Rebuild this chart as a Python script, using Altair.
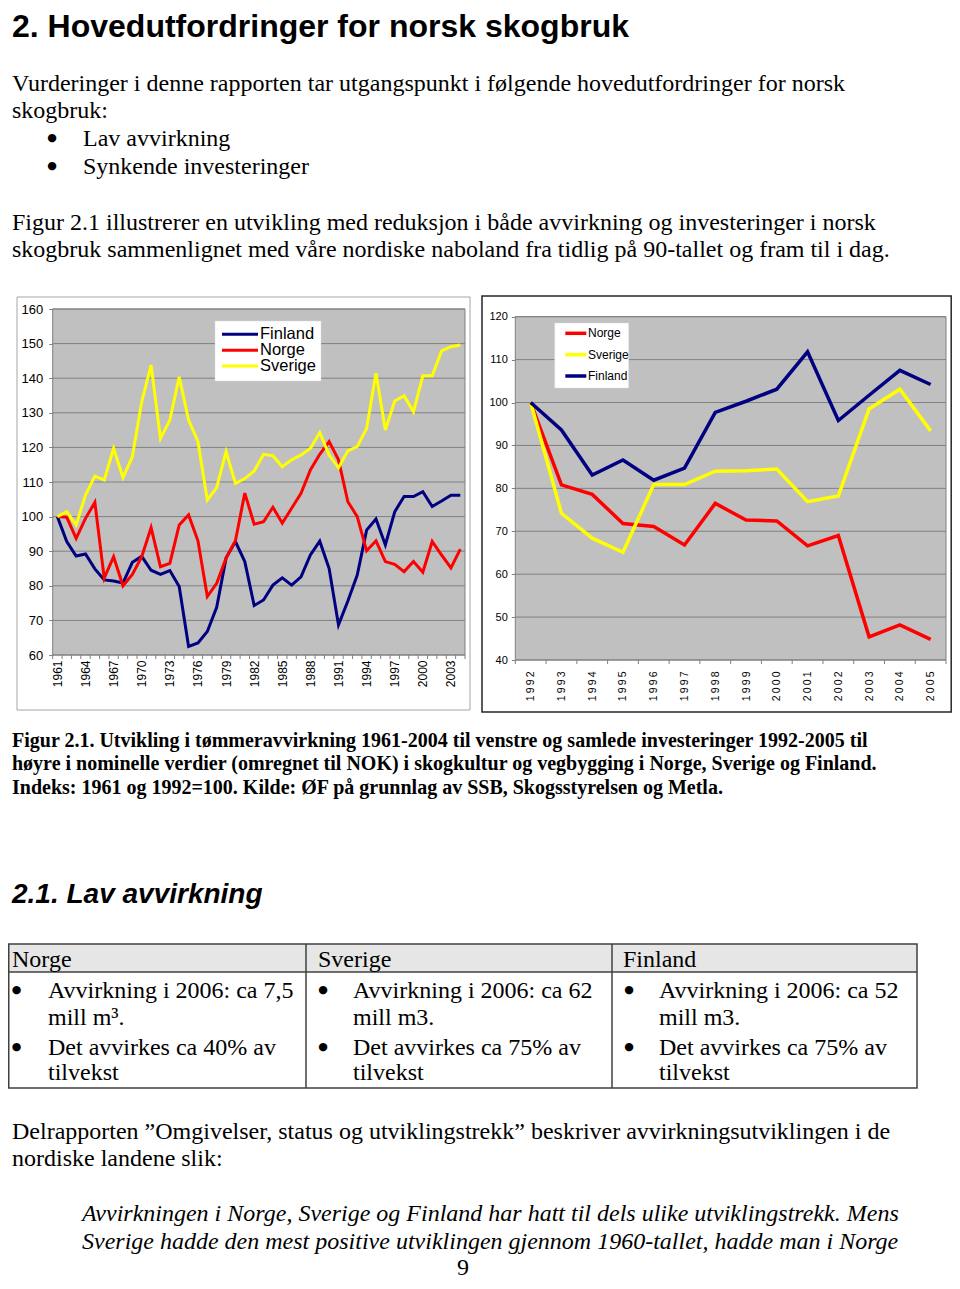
import altair as alt
import pandas as pd

# ---------------- chart data ----------------
YEARS_A = list(range(1961, 2005))
FINLAND_A = [100, 92.8, 88.6, 89.2, 84.9, 81.7, 81.4, 80.8, 86.8, 88.5,
             84.5, 83.3, 84.4, 79.8, 62.5, 63.5, 66.8, 73.8, 88.0, 92.8,
             87.0, 74.3, 75.9, 80.2, 82.3, 80.2, 82.6, 88.9, 92.9, 85.0,
             68.7, 75.6, 83.1, 96.1, 99.3, 91.8, 101.4, 105.8, 105.8, 107.2,
             102.9, 104.5, 106.2, 106.2]
NORGE_A = [100, 99.8, 93.7, 99.5, 104.1, 82.2, 88.4, 80.0, 83.3, 88.4,
           96.8, 85.5, 86.5, 97.6, 100.5, 93.0, 76.9, 80.7, 88.0, 93.0,
           106.8, 97.8, 98.5, 102.7, 98.1, 102.4, 106.7, 113.5, 118.0, 121.7,
           116.4, 104.3, 100.0, 90.1, 93.0, 87.0, 86.2, 84.1, 87.0, 83.9,
           92.8, 88.9, 85.2, 90.6]
SVERIGE_A = [100, 101.4, 97.6, 106.2, 111.7, 110.6, 119.7, 111.3, 117.3, 133.2,
             143.8, 122.6, 127.9, 140.4, 127.9, 121.7, 104.8, 108.4, 118.8, 109.6,
             111.0, 113.2, 118.0, 117.6, 114.4, 116.4, 117.8, 119.7, 124.3, 117.8,
             114.1, 119.0, 120.2, 125.5, 141.4, 125.0, 133.4, 134.9, 130.3, 140.7,
             140.7, 147.9, 149.1, 149.6]
LABEL_YEARS_A = list(range(1961, 2005, 3))
TICKS_A = list(range(60, 161, 10))
SERIES_A = ["Finland", "Norge", "Sverige"]

YEARS_B = list(range(1992, 2006))
NORGE_B = [100, 80.8, 78.6, 71.8, 71.1, 66.8, 76.5, 72.6, 72.4, 66.6, 69.0, 45.4, 48.2, 44.8]
SVERIGE_B = [100, 74.2, 68.4, 65.1, 80.9, 80.9, 84.0, 84.1, 84.5, 76.9, 78.2, 98.5, 103.1, 93.4]
FINLAND_B = [100, 93.6, 83.1, 86.6, 81.9, 84.7, 97.7, 100.3, 103.1, 111.8, 95.8, 101.7, 107.5, 104.2]
TICKS_B = list(range(40, 121, 10))
SERIES_B = ["Norge", "Sverige", "Finland"]

COLOR_OF = {"Finland": "#000080", "Norge": "#ff0000", "Sverige": "#ffff00"}

# ---------------- page text ----------------
HEADING = "2. Hovedutfordringer for norsk skogbruk"
INTRO = ["Vurderinger i denne rapporten tar utgangspunkt i følgende hovedutfordringer for norsk",
         "skogbruk:"]
BULLETS = ["Lav avvirkning", "Synkende investeringer"]
FIG_INTRO = ["Figur 2.1 illustrerer en utvikling med reduksjon i både avvirkning og investeringer i norsk",
             "skogbruk sammenlignet med våre nordiske naboland fra tidlig på 90-tallet og fram til i dag."]
CAPTION = ["Figur 2.1. Utvikling i tømmeravvirkning 1961-2004 til venstre og samlede investeringer 1992-2005 til",
           "høyre i nominelle verdier (omregnet til NOK) i skogkultur og vegbygging i Norge, Sverige og Finland.",
           "Indeks: 1961 og 1992=100.  Kilde: ØF på grunnlag av SSB, Skogsstyrelsen og Metla."]
SUBHEAD = "2.1. Lav avvirkning"
TABLE_HEAD = ["Norge", "Sverige", "Finland"]
TABLE_BODY = [
    [["Avvirkning i 2006: ca 7,5", "mill m³."], ["Det avvirkes ca 40% av", "tilvekst"]],
    [["Avvirkning i 2006: ca 62", "mill m3."], ["Det avvirkes ca 75% av", "tilvekst"]],
    [["Avvirkning i 2006: ca 52", "mill m3."], ["Det avvirkes ca 75% av", "tilvekst"]],
]
OUTRO = ["Delrapporten \u201dOmgivelser, status og utviklingstrekk\u201d beskriver avvirkningsutviklingen i de",
         "nordiske landene slik:"]
QUOTE = ["Avvirkningen i Norge, Sverige og Finland har hatt til dels ulike utviklingstrekk. Mens",
         "Sverige hadde den mest positive utviklingen gjennom 1960-tallet, hadde man i Norge"]
PAGE_NO = "9"
BULLET = "\u25cf"

# ---------------- layout helpers ----------------
W, H = 944, 1273
OFF = 8


def P(v):
    return v - OFF


SERIF = "Liberation Serif"
SANS = "Liberation Sans"
NARROW = "Liberation Sans Narrow, Arial Narrow, Liberation Sans"
ONE = pd.DataFrame({"k": [0]})


def txt(s, x, y, size, font=SERIF, weight="normal", style="normal", align="left",
        baseline="alphabetic", color="black"):
    return alt.Chart(pd.DataFrame({"t": [s]})).mark_text(
        align=align, baseline=baseline, font=font, fontSize=size,
        fontWeight=weight, fontStyle=style, color=color
    ).encode(x=alt.value(P(x)), y=alt.value(P(y)), text="t:N")


def bullet(x, line_baseline):
    return txt(BULLET, x, line_baseline - 4.6, 11, font="DejaVu Sans", align="center")


def box(x1, y1, x2, y2, fill=None, stroke=None, sw=1.0):
    kw = {}
    if fill is None:
        kw["fillOpacity"] = 0
    else:
        kw["fill"] = fill
    if stroke is not None:
        kw["stroke"] = stroke
        kw["strokeWidth"] = sw
    return alt.Chart(ONE).mark_rect(**kw).encode(
        x=alt.value(P(x1)), x2=alt.value(P(x2)), y=alt.value(P(y1)), y2=alt.value(P(y2)))


def hline(x1, x2, y, color="#404040", sw=1.0):
    return alt.Chart(ONE).mark_rule(color=color, strokeWidth=sw).encode(
        x=alt.value(P(x1)), x2=alt.value(P(x2)), y=alt.value(P(y)))


def vline(x, y1, y2, color="#404040", sw=1.0):
    return alt.Chart(ONE).mark_rule(color=color, strokeWidth=sw).encode(
        x=alt.value(P(x)), y=alt.value(P(y1)), y2=alt.value(P(y2)))


def line_chart(years, series, names, label_years, ticks, box_px, ydom, lw,
               ylab_font, ylab_size, ylab_pad, xlab_font, xlab_size, xlab_pad, xlab_expr=None):
    x1, y1, x2, y2 = box_px
    df = pd.DataFrame({
        "year": years * len(names),
        "value": [v for s in series for v in s],
        "land": [n for n in names for _ in years],
    })
    xaxis_kw = dict(orient="bottom", offset=-(H - P(y2)), values=label_years, format="d",
                    labelAngle=270, labelAlign="right", labelBaseline="middle",
                    labelPadding=xlab_pad, ticks=False, domain=False, grid=False, title=None,
                    labelFont=xlab_font, labelFontSize=xlab_size, labelColor="black",
                    labelOverlap=False, labelFlush=False, zindex=1)
    if xlab_expr:
        xaxis_kw["labelExpr"] = xlab_expr
    xenc = alt.X("year:Q",
                 scale=alt.Scale(domain=[years[0] - 0.5, years[-1] + 0.5],
                                 range=[P(x1), P(x2)], nice=False, zero=False),
                 axis=alt.Axis(**xaxis_kw))
    yenc = alt.Y("value:Q",
                 scale=alt.Scale(domain=ydom, range=[P(y2), P(y1)], nice=False, zero=False),
                 axis=alt.Axis(orient="left", offset=-P(x1), values=ticks, tickSize=4,
                               tickColor="#808080", domain=False, labelPadding=ylab_pad,
                               labelFont=ylab_font, labelFontSize=ylab_size, labelColor="black",
                               grid=False, title=None, labelFlush=False, labelOverlap=False,
                               zindex=1))
    bg = box(x1, y1, x2, y2, fill="#c0c0c0", stroke="#808080", sw=1)
    grid = alt.Chart(pd.DataFrame({"value": ticks})).mark_rule(
        color="#808080", strokeWidth=1).encode(y=yenc, x=alt.value(P(x1)), x2=alt.value(P(x2)))
    bounds = [y - 0.5 for y in years] + [years[-1] + 0.5]
    tk = alt.Chart(pd.DataFrame({"year": bounds})).mark_rule(
        color="#808080", strokeWidth=1).encode(x=xenc, y=alt.value(P(y2)), y2=alt.value(P(y2) + 4))
    lines = alt.Chart(df).mark_line(strokeWidth=lw, strokeJoin="miter").encode(
        x=xenc, y=yenc,
        color=alt.Color("land:N", scale=alt.Scale(domain=names, range=[COLOR_OF[n] for n in names]),
                        legend=None))
    return alt.layer(bg, grid, tk, lines)


def legend(names, bx, line_x1, line_x2, text_x, y_first, y_last, size, font, lw):
    bx1, by1, bx2, by2 = bx
    src = pd.DataFrame({"land": names})
    yenc = alt.Y("land:N", scale=alt.Scale(type="point", domain=names, range=[P(y_first), P(y_last)],
                                           padding=0), axis=None)
    cenc = alt.Color("land:N", scale=alt.Scale(domain=names, range=[COLOR_OF[n] for n in names]),
                     legend=None)
    back = box(bx1, by1, bx2, by2, fill="white", stroke="#d9d9d9", sw=0.5)
    sym = alt.Chart(src).mark_rule(strokeWidth=lw).encode(
        y=yenc, x=alt.value(P(line_x1)), x2=alt.value(P(line_x2)), color=cenc)
    lab = alt.Chart(src).mark_text(align="left", baseline="middle", font=font, fontSize=size,
                                   color="black").encode(
        y=yenc, x=alt.value(P(text_x)), text="land:N")
    return alt.layer(back, sym, lab)


layers = []

# ---- text above charts ----
layers.append(txt(HEADING, 12, 37, 32, font=SANS, weight="bold"))
layers.append(txt(INTRO[0], 12, 90.5, 24))
layers.append(txt(INTRO[1], 12, 118, 24))
for i, b in enumerate(BULLETS):
    yy = 146 + 28 * i
    layers.append(bullet(52, yy))
    layers.append(txt(b, 83, yy, 24))
layers.append(txt(FIG_INTRO[0], 12, 230, 24))
layers.append(txt(FIG_INTRO[1], 12, 257, 24))

# ---- chart frames ----
layers.append(box(17, 297, 470, 710, fill="white", stroke="#a6a6a6", sw=1))
layers.append(box(482, 296, 951.2, 712, fill="white", stroke="#262626", sw=1.5))

# ---- left chart: tømmeravvirkning 1961-2004 ----
layers.append(line_chart(YEARS_A, [FINLAND_A, NORGE_A, SVERIGE_A], SERIES_A, LABEL_YEARS_A,
                         TICKS_A, (52.7, 309, 465, 655), [60, 160], 3,
                         SANS, 13, 6, SANS, 12, 5))
layers.append(legend(SERIES_A, (215, 321, 321, 381), 222, 258, 260, 334.3, 366, 16.5, SANS, 3))

# ---- right chart: investeringer 1992-2005 ----
layers.append(line_chart(YEARS_B, [NORGE_B, SVERIGE_B, FINLAND_B], SERIES_B, YEARS_B,
                         TICKS_B, (515.3, 316.7, 946, 660), [40, 120], 3.5,
                         NARROW, 11, 4, NARROW, 10.5, 11,
                         xlab_expr="join(split(datum.label, ''), '\u2009')"))
layers.append(legend(SERIES_B, (554.7, 323, 628.7, 388), 565.3, 586.3, 588, 333.3, 376, 12, NARROW, 3.5))

# ---- caption ----
for i, c in enumerate(CAPTION):
    layers.append(txt(c, 12, 746.5 + 23.5 * i, 20, weight="bold"))

layers.append(txt(SUBHEAD, 12, 902.5, 28, font=SANS, weight="bold", style="italic"))

# ---- table ----
TL, TR = 8.75, 917
layers.append(box(TL, 944, TR, 972, fill="#e6e6e6"))
layers.append(box(TL, 944, TR, 1088, stroke="#404040", sw=1.5))
layers.append(hline(TL, TR, 972, sw=1.5))
layers.append(vline(306, 944, 1088, sw=1.5))
layers.append(vline(612, 944, 1088, sw=1.5))
col_head_x = [12, 318, 623]
col_bullet_x = [16.5, 323, 629]
col_text_x = [48, 353, 659]
row_y = [[998, 1025], [1055, 1080]]
for c in range(3):
    layers.append(txt(TABLE_HEAD[c], col_head_x[c], 967, 24))
    for bi, item in enumerate(TABLE_BODY[c]):
        layers.append(bullet(col_bullet_x[c], row_y[bi][0]))
        for li, line in enumerate(item):
            layers.append(txt(line, col_text_x[c], row_y[bi][li], 24))

# ---- text below ----
layers.append(txt(OUTRO[0], 12, 1139, 24))
layers.append(txt(OUTRO[1], 12, 1166, 24))
layers.append(txt(QUOTE[0], 82, 1221, 24, style="italic"))
layers.append(txt(QUOTE[1], 82, 1249, 24, style="italic"))
layers.append(txt(PAGE_NO, 463, 1275, 24, align="center"))

chart = alt.layer(*layers).resolve_scale(
    x="independent", y="independent", color="independent"
).properties(
    width=W, height=H, padding=0, background="white",
    autosize=alt.AutoSizeParams(type="none")
).configure_view(strokeWidth=0)

chart.save("out.html", embed_options={"renderer": "svg", "actions": False})
